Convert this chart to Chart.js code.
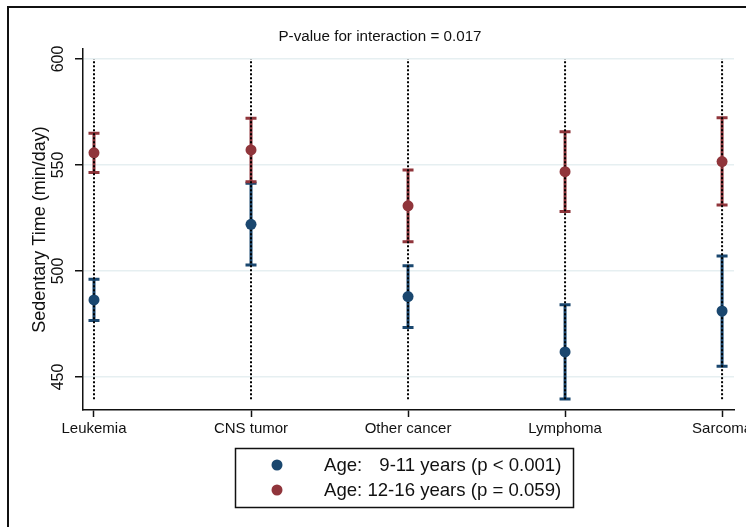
<!DOCTYPE html>
<html>
<head>
<meta charset="utf-8">
<script src="https://cdn.jsdelivr.net/npm/chart.js@4/dist/chart.umd.min.js"></script>
<style>
html, body { margin: 0; padding: 0; background: #fff; }
</style>
</head>
<body>
<canvas id="myChart" width="746" height="527"></canvas>
<script>
// values (min/day)
var categories = ["Leukemia", "CNS tumor", "Other cancer", "Lymphoma", "Sarcoma"];
var youngMean = [486.3, 522.0, 487.9, 461.8, 481.1];
var youngLow = [476.6, 502.8, 473.3, 439.6, 455.0];
var youngHigh = [496.1, 541.4, 502.5, 484.0, 507.1];
var olderMean = [555.7, 557.1, 530.7, 546.8, 551.6];
var olderLow = [546.4, 542.1, 513.8, 528.0, 531.1];
var olderHigh = [564.9, 572.0, 547.6, 565.7, 572.3];
var yTicks = [450, 500, 550, 600];
var refLineRange = [439.5, 600];
var seriesLabels = ["Age: \u2007\u200a9-11 years (p < 0.001)", "Age: 12-16 years (p = 0.059)"];
var chartTitle = "P-value for interaction = 0.017";

var navy = "#1a476f", maroon = "#90353b";
var fam = "'Liberation Sans', Arial, Helvetica, sans-serif";

function toPoints(vals) {
    return vals.map(function (v, i) { return { x: i, y: v }; });
}

var framePlugin = {
    id: "frame",
    beforeDraw: function (chart) {
        var c = chart.ctx;
        c.save();
        c.fillStyle = "#fff";
        c.fillRect(0, 0, chart.width, chart.height);
        c.strokeStyle = "#111";
        c.lineWidth = 2;
        c.beginPath();
        c.moveTo(8, chart.height + 5);
        c.lineTo(8, 7);
        c.lineTo(chart.width + 5, 7);
        c.stroke();
        c.font = "15.2px " + fam;
        c.fillStyle = "#111";
        c.textAlign = "center";
        c.textBaseline = "middle";
        c.fillText(chartTitle, 380, 37);
        c.restore();
    }
};

var errorBarPlugin = {
    id: "errorBars",
    beforeDatasetsDraw: function (chart) {
        var xs = chart.scales.x, ys = chart.scales.y, c = chart.ctx;
        c.save();
        [[youngLow, youngHigh, navy], [olderLow, olderHigh, maroon]].forEach(function (s) {
            c.strokeStyle = s[2];
            c.lineWidth = 3;
            s[0].forEach(function (lo, i) {
                var x = xs.getPixelForValue(i),
                    y1 = ys.getPixelForValue(lo),
                    y2 = ys.getPixelForValue(s[1][i]);
                c.beginPath();
                c.moveTo(x, y1); c.lineTo(x, y2);
                c.moveTo(x - 5.5, y1); c.lineTo(x + 5.5, y1);
                c.moveTo(x - 5.5, y2); c.lineTo(x + 5.5, y2);
                c.stroke();
            });
        });
        // dotted line through every category
        c.strokeStyle = "#000";
        c.lineWidth = 2;
        c.setLineDash([2, 2]);
        categories.forEach(function (n, i) {
            var x = xs.getPixelForValue(i);
            c.beginPath();
            c.moveTo(x, ys.getPixelForValue(refLineRange[0]));
            c.lineTo(x, ys.getPixelForValue(refLineRange[1]));
            c.stroke();
        });
        c.restore();
    }
};

var legendPlugin = {
    id: "boxLegend",
    afterDraw: function (chart) {
        var c = chart.ctx;
        c.save();
        c.strokeStyle = "#111";
        c.lineWidth = 1.5;
        c.strokeRect(235.5, 448.5, 338, 59);
        c.font = "18.6px " + fam;
        c.textBaseline = "middle";
        c.textAlign = "left";
        chart.data.datasets.forEach(function (ds, i) {
            var y = 465 + i * 25;
            c.fillStyle = ds.backgroundColor;
            c.beginPath();
            c.arc(277, y, 5.5, 0, Math.PI * 2);
            c.fill();
            c.fillStyle = "#111";
            c.fillText(ds.label, 324, y + 1);
        });
        c.restore();
    }
};

var ctx = document.getElementById("myChart").getContext("2d");
new Chart(ctx, {
    type: "scatter",
    data: {
        datasets: [
            { label: seriesLabels[0], data: toPoints(youngMean), backgroundColor: navy, borderColor: navy, borderWidth: 0, pointRadius: 5.5 },
            { label: seriesLabels[1], data: toPoints(olderMean), backgroundColor: maroon, borderColor: maroon, borderWidth: 0, pointRadius: 5.5 }
        ]
    },
    options: {
        responsive: false,
        animation: false,
        layout: { padding: { top: 49, left: 0, right: 12, bottom: 80 } },
        plugins: { legend: { display: false }, tooltip: { enabled: false } },
        scales: {
            x: {
                type: "linear",
                min: -0.07,
                max: 4.076,
                afterBuildTicks: function (s) { s.ticks = categories.map(function (n, i) { return { value: i }; }); },
                afterFit: function (s) { s.height = 37; s.paddingLeft = 0; s.paddingRight = 0; },
                ticks: {
                    callback: function (v) { return categories[v]; },
                    font: { size: 15, family: fam },
                    color: "#111",
                    padding: 3,
                    maxRotation: 0,
                    autoSkip: false
                },
                grid: { drawOnChartArea: false, tickLength: 7, tickColor: "#111", tickWidth: 1.5 },
                border: { color: "#111", width: 1.5 }
            },
            y: {
                min: 434.4,
                max: 604.7,
                afterBuildTicks: function (s) { s.ticks = yTicks.map(function (v) { return { value: v }; }); },
                afterFit: function (s) { s.width = 83; s.paddingTop = 0; s.paddingBottom = 0; },
                ticks: {
                    minRotation: 90,
                    maxRotation: 90,
                    crossAlign: "center",
                    padding: 3,
                    font: { size: 16, family: fam },
                    color: "#111"
                },
                grid: { color: "#e6eff1", lineWidth: 1.5, tickLength: 8, tickColor: "#111", tickWidth: 1.5 },
                border: { color: "#111", width: 1.5 },
                title: {
                    display: true,
                    text: "Sedentary Time (min/day)",
                    font: { size: 18, family: fam },
                    color: "#111",
                    padding: { top: 29, bottom: 0 }
                }
            }
        }
    },
    plugins: [framePlugin, errorBarPlugin, legendPlugin]
});
</script>
</body>
</html>
